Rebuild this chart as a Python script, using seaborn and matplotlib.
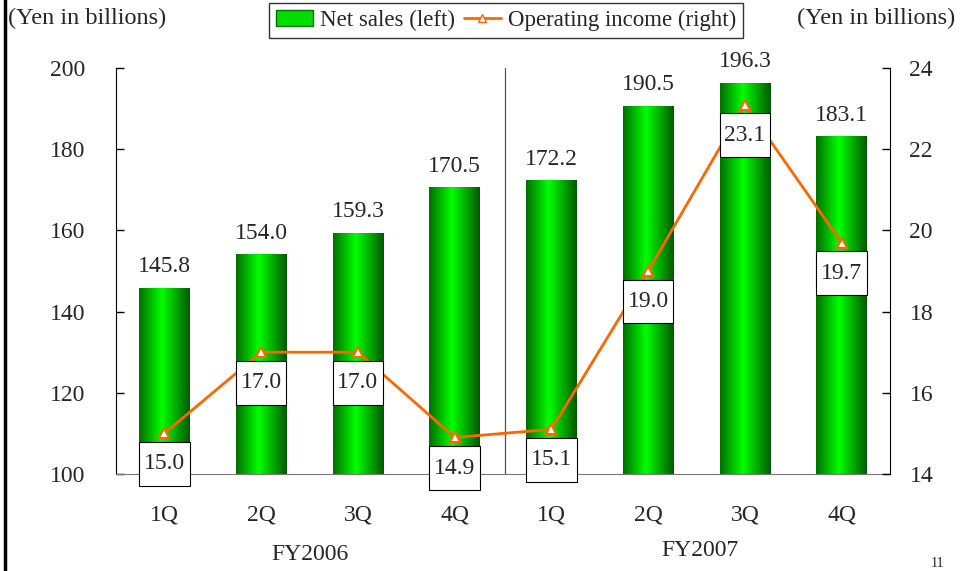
import seaborn as sns
import matplotlib.pyplot as plt
import pandas as pd
import numpy as np
from matplotlib.colors import LinearSegmentedColormap
from matplotlib.patches import Patch
from matplotlib.lines import Line2D
from matplotlib.path import Path

# --- data ---
quarters = ['1Q', '2Q', '3Q', '4Q', '1Q', '2Q', '3Q', '4Q']
periods = ['FY2006 1Q', 'FY2006 2Q', 'FY2006 3Q', 'FY2006 4Q',
           'FY2007 1Q', 'FY2007 2Q', 'FY2007 3Q', 'FY2007 4Q']
net_sales = [145.8, 154.0, 159.3, 170.5, 172.2, 190.5, 196.3, 183.1]
op_income = [15.0, 17.0, 17.0, 14.9, 15.1, 19.0, 23.1, 19.7]

df = pd.DataFrame({'period': periods, 'sales': net_sales, 'income': op_income})
df['pos'] = np.arange(len(df))

sns.set_style('white')
plt.rcParams['font.family'] = ['Liberation Serif', 'DejaVu Serif']

fig = plt.figure(figsize=(9.6, 5.71), dpi=100)
ax = fig.add_axes([116 / 960, 1 - 474 / 571, (890 - 116) / 960, (474 - 68) / 571])

orange = '#FF6600'
fs = 17
ymin, ymax = 100, 200

# bars (net sales, left axis)
sns.barplot(data=df, x='period', y='sales', color='#00DD00', width=0.52,
            ax=ax, zorder=2)

# horizontal green gradient inside each bar
cmap = LinearSegmentedColormap.from_list(
    'bar', [(0, '#006E00'), (0.45, '#00FF00'), (1, '#005800')])
grad = np.linspace(0, 1, 256).reshape(1, -1)
for p in ax.patches:
    x0, w, top = p.get_x(), p.get_width(), p.get_y() + p.get_height()
    ax.imshow(grad, extent=[x0, x0 + w, ymin, top], aspect='auto',
              cmap=cmap, zorder=2, interpolation='bicubic')
    p.set_visible(False)

for i, v in enumerate(net_sales):
    ax.annotate(f'{v:.1f}', (i, v), xytext=(0, 8), textcoords='offset points',
                ha='center', va='bottom', fontsize=fs)

ax.set_ylim(ymin, ymax)
ax.set_yticks([100, 120, 140, 160, 180, 200])
ax.set_xlabel('')
ax.set_ylabel('')
ax.tick_params(axis='y', direction='in', length=6, width=1, color='black',
               labelsize=fs, pad=22, left=True)
ax.axvline(3.52, color='#555555', lw=0.9, zorder=1)

ax.spines['top'].set_visible(False)
ax.spines['right'].set_visible(False)
ax.spines['left'].set_color('black')
ax.spines['bottom'].set_color('#777777')


def tall_box(x0, y0, width, height, mutation_size):
    # square box with more room above and below the text
    px, py = 0.2 * mutation_size, 0.48 * mutation_size
    x0, y0 = x0 - px, y0 - py
    x1, y1 = x0 + width + 2 * px, y0 + height + 2 * py
    return Path([(x0, y0), (x1, y0), (x1, y1), (x0, y1), (x0, y0)], closed=True)


# line (operating income, right axis)
ax2 = ax.twinx()
sns.lineplot(data=df, x='pos', y='income', color=orange, lw=2, marker='^',
             markersize=7.5, markerfacecolor='white', markeredgecolor=orange,
             markeredgewidth=1.5, ax=ax2, zorder=3)
for i, v in enumerate(op_income):
    ax2.annotate(f'{v:.1f}', (i, v), xytext=(0, -22), textcoords='offset points',
                 ha='center', va='center', fontsize=fs, zorder=4,
                 bbox=dict(boxstyle=tall_box, fc='white', ec='black', lw=0.8))
ax2.set_ylim(14, 24)
ax2.set_yticks([14, 16, 18, 20, 22, 24])
ax2.set_ylabel('')
ax2.set_xlabel('')
ax2.tick_params(axis='y', direction='in', length=6, width=1, color='black',
                labelsize=fs, pad=14, right=True)
for s in ['top', 'left', 'bottom']:
    ax2.spines[s].set_visible(False)
ax2.spines['right'].set_color('black')

# x axis (shared), set after the line plot
ax.set_xlim(-0.5, 7.5)
ax.set_xticks(range(8))
ax.set_xticklabels(quarters)
ax.tick_params(axis='x', length=0, labelsize=fs, pad=22)

# unit labels, fiscal years, legend
fig.text(8 / 960, 1 - 18 / 571, '(Yen in billions)', fontsize=17.5, va='center', ha='left')
fig.text(955 / 960, 1 - 18 / 571, '(Yen in billions)', fontsize=17.5, va='center', ha='right')
fig.text(310 / 960, 1 - 555 / 571, 'FY2006', fontsize=17, va='center', ha='center')
fig.text(700 / 960, 1 - 551 / 571, 'FY2007', fontsize=17, va='center', ha='center')
fig.text(937 / 960, 1 - 557 / 571, '11', fontsize=10, va='top', ha='center')

handles = [Patch(facecolor='#00DD00', edgecolor='#007000'),
           Line2D([], [], color=orange, lw=2, marker='^', markersize=6,
                  markerfacecolor='white', markeredgecolor=orange)]
fig.legend(handles, ['Net sales (left)', 'Operating income (right)'],
           loc='upper center', bbox_to_anchor=(506 / 960, 0.995), ncol=2,
           frameon=True, fancybox=False, edgecolor='black', fontsize=16.5,
           handlelength=1.6, handletextpad=0.3, columnspacing=0.4,
           borderpad=0.3, borderaxespad=0)

# left page border
fig.add_artist(Line2D([4.5 / 960, 4.5 / 960], [0, 1], color='black', lw=2.5))

fig.savefig('out.png', dpi=100)
